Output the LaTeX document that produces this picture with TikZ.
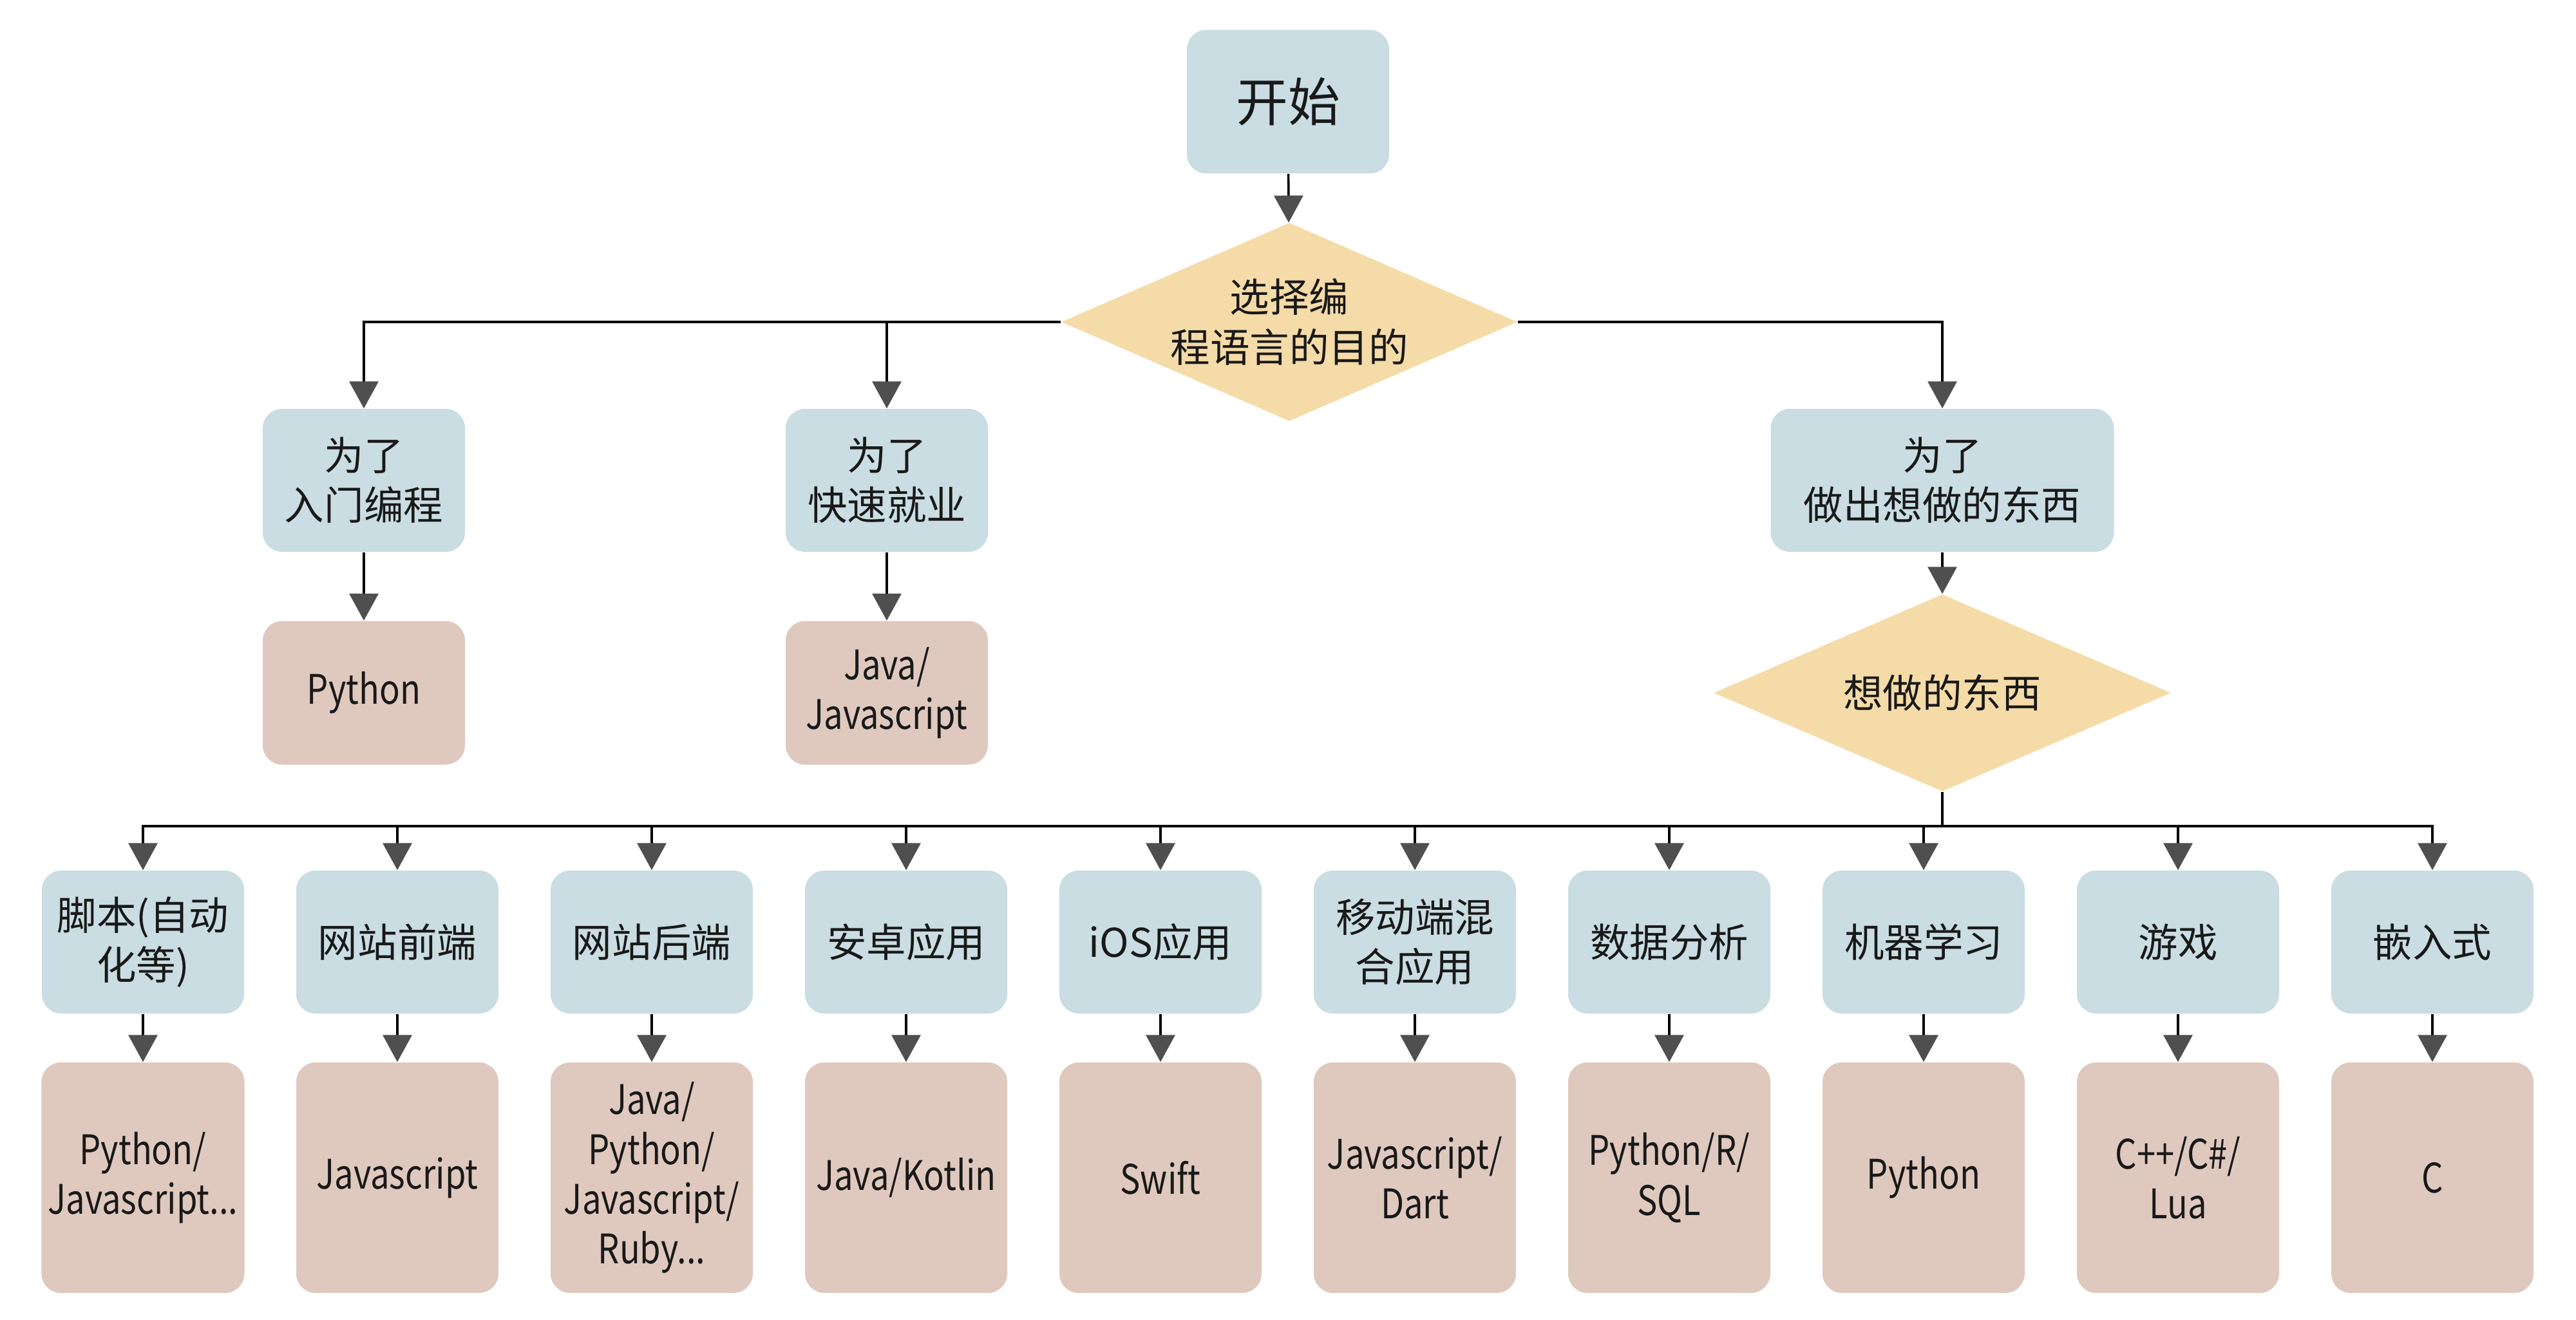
\documentclass[tikz,border=0pt]{standalone}
\usepackage{fontspec}
\setmainfont{Noto Sans CJK SC}
\newfontfamily\langfont[FakeStretch=0.83]{Noto Sans CJK SC}
\usetikzlibrary{arrows.meta,shapes.geometric}

\definecolor{boxblue}{HTML}{C9DDE2}
\definecolor{boxtan}{HTML}{DFC9BE}
\definecolor{boxsand}{HTML}{F5DBA7}
\definecolor{tipgray}{HTML}{4F4F4F}

\begin{document}
\begin{tikzpicture}[
    every node/.style={font=\fontsize{17.5}{22}\selectfont, align=center, text=black!90},
    goal/.style={fill=boxblue, rounded corners=3mm, minimum width=3.14cm, minimum height=2.22cm},
    lang/.style={fill=boxtan, rounded corners=3mm, minimum width=3.14cm, minimum height=3.58cm,
      inner xsep=1mm, font=\langfont\fontsize{18}{22}\selectfont},
    ask/.style={diamond, fill=boxsand, aspect=2.3, inner sep=0pt},
    arr/.style={line width=1pt, -{Triangle[width=4.5mm,length=4.2mm,color=tipgray]}}
  ]
        \fill[white] (0,0) rectangle (40,-20.5);
        \useasboundingbox (0,0) rectangle (40,-20.5);

        \node[goal, minimum height=2.23cm, font=\fontsize{23}{28}\selectfont] (S) at (20.00,-1.58) {开始};
        \node[ask, minimum width=7.08cm, minimum height=3.08cm] (C) at (20.02,-5.00) {选择编\\程语言的目的};
        \node[goal] (A) at (5.65,-7.46) {为了\\入门编程};
        \node[goal] (B) at (13.77,-7.46) {为了\\快速就业};
        \node[goal, minimum width=5.33cm] (M) at (30.16,-7.46) {为了\\做出想做的东西};
        \node[lang, minimum height=2.23cm] (Ap) at (5.65,-10.76) {Python};
        \node[lang, minimum height=2.23cm] (Bp) at (13.77,-10.76) {Java/\\Javascript};
        \node[ask, minimum width=7.1cm, minimum height=3.06cm] (W) at (30.16,-10.76) {想做的东西};
        \coordinate (J) at (30.16,-12.83);

        \node[goal] (R1) at (2.22,-14.63) {脚本(自动\\化等)};
        \node[goal] (R2) at (6.17,-14.63) {网站前端};
        \node[goal] (R3) at (10.12,-14.63) {网站后端};
        \node[goal] (R4) at (14.07,-14.63) {安卓应用};
        \node[goal] (R5) at (18.02,-14.63) {iOS应用};
        \node[goal] (R6) at (21.97,-14.63) {移动端混\\合应用};
        \node[goal] (R7) at (25.92,-14.63) {数据分析};
        \node[goal] (R8) at (29.87,-14.63) {机器学习};
        \node[goal] (R9) at (33.82,-14.63) {游戏};
        \node[goal] (R10) at (37.77,-14.63) {嵌入式};

        \node[lang] (L1) at (2.22,-18.29) {Python/\\Javascript...};
        \node[lang] (L2) at (6.17,-18.29) {Javascript};
        \node[lang] (L3) at (10.12,-18.29) {Java/\\Python/\\Javascript/\\Ruby...};
        \node[lang] (L4) at (14.07,-18.29) {Java/Kotlin};
        \node[lang] (L5) at (18.02,-18.29) {Swift};
        \node[lang] (L6) at (21.97,-18.29) {Javascript/\\Dart};
        \node[lang] (L7) at (25.92,-18.29) {Python/R/\\SQL};
        \node[lang] (L8) at (29.87,-18.29) {Python};
        \node[lang] (L9) at (33.82,-18.29) {C++/C\#/\\Lua};
        \node[lang] (L10) at (37.77,-18.29) {C};

        \draw[arr] (S) -- (C);
        \draw[arr] (C.west) -| (A.north);
        \draw[arr] (C.west) -| (B.north);
        \draw[arr] (C.east) -| (M.north);
        \draw[arr] (A) -- (Ap);
        \draw[arr] (B) -- (Bp);
        \draw[arr] (M) -- (W);
        \draw[line width=1pt] (W.south) -- (J);
        \draw[line width=1.2pt] (R1.north |- J) -- (R10.north |- J);

        \draw[arr] (J) -| (R1.north);
        \draw[arr] (J) -| (R2.north);
        \draw[arr] (J) -| (R3.north);
        \draw[arr] (J) -| (R4.north);
        \draw[arr] (J) -| (R5.north);
        \draw[arr] (J) -| (R6.north);
        \draw[arr] (J) -| (R7.north);
        \draw[arr] (J) -| (R8.north);
        \draw[arr] (J) -| (R9.north);
        \draw[arr] (J) -| (R10.north);

        \draw[arr] (R1) -- (L1);
        \draw[arr] (R2) -- (L2);
        \draw[arr] (R3) -- (L3);
        \draw[arr] (R4) -- (L4);
        \draw[arr] (R5) -- (L5);
        \draw[arr] (R6) -- (L6);
        \draw[arr] (R7) -- (L7);
        \draw[arr] (R8) -- (L8);
        \draw[arr] (R9) -- (L9);
        \draw[arr] (R10) -- (L10);
\end{tikzpicture}
\end{document}
